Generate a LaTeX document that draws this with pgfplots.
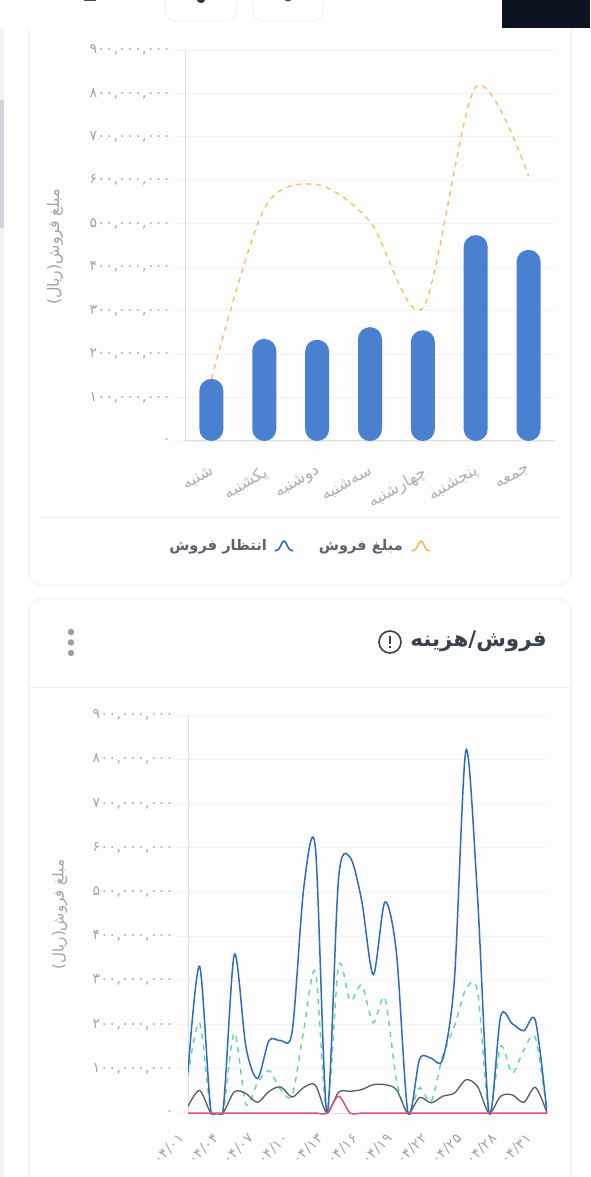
\documentclass[border=0pt]{standalone}
\usepackage{fontspec}
\usepackage{pgfplots}
\usepackage{pgfplotstable}
\pgfplotsset{compat=1.18}
\TeXXeTstate=1
\setmainfont{DejaVu Sans}
\newfontfamily\arabicfont[Script=Arabic]{DejaVu Sans}
\newfontfamily\digitfont[LetterSpace=3]{DejaVu Sans}
\newcommand{\nm}[1]{{\digitfont #1}}
\definecolor{bgcard}{HTML}{FDFDFE}
\definecolor{cardline}{HTML}{EEEFF2}
\definecolor{gridc}{HTML}{F1F2F4}
\definecolor{axisc}{HTML}{DDDFE3}
\definecolor{ticktext}{HTML}{A0A3AB}
\definecolor{barc}{HTML}{4A80D0}
\definecolor{orangec}{HTML}{F9B950}
\definecolor{bluec}{HTML}{2F6CB8}
\definecolor{greenc}{HTML}{62D3AA}
\definecolor{grayc}{HTML}{585B63}
\definecolor{pinkc}{HTML}{D9507C}
\definecolor{titlec}{HTML}{3B404D}
\definecolor{legc}{HTML}{5E626D}
\definecolor{darkbox}{HTML}{0D1320}
\definecolor{strip}{HTML}{F2F3F6}
\definecolor{stripd}{HTML}{D2D4DA}
\definecolor{dotc}{HTML}{9C9EA6}
\pgfplotstableread{
idx amount
0 143e6
1 235e6
2 233e6
3 262e6
4 255e6
5 474e6
6 440e6
}\bartable
\pgfplotstableread{
idx value
0 143e6
1 535e6
2 590e6
3 505e6
4 306e6
5 815e6
6 610e6
}\linetable
\pgfplotstableread{
idx blue green gray pink
0 94e6 85e6 15e6 0
1 332e6 204e6 51e6 0
2 0 0 0 0
3 0 0 0 0
4 358e6 181e6 48e6 0
5 150e6 20e6 44e6 0
6 78e6 68e6 24e6 0
7 164e6 96e6 49e6 0
8 164e6 53e6 59e6 0
9 185e6 41e6 36e6 0
10 510e6 188e6 58e6 0
11 600e6 319e6 63e6 0
12 0 0 0 0
13 530e6 332e6 47e6 38e6
14 578e6 254e6 49e6 0
15 480e6 289e6 53e6 0
16 313e6 204e6 64e6 0
17 477e6 260e6 64e6 0
18 362e6 75e6 53e6 0
19 0 0 0 0
20 122e6 57e6 35e6 0
21 124e6 26e6 23e6 0
22 122e6 130e6 38e6 0
23 300e6 196e6 45e6 0
24 820e6 280e6 75e6 0
25 490e6 275e6 60e6 0
26 0 0 0 0
27 219e6 151e6 38e6 0
28 202e6 90e6 41e6 0
29 186e6 143e6 24e6 0
30 209e6 170e6 58e6 0
31 0 0 0 0
}\daytable
\pgfplotsset{
  common/.style={
    scale only axis,
    ymax=900e6,
    ytick={0,100e6,200e6,300e6,400e6,500e6,600e6,700e6,800e6,900e6},
    yticklabels={\nm{۰},\nm{۱۰۰,۰۰۰,۰۰۰},\nm{۲۰۰,۰۰۰,۰۰۰},\nm{۳۰۰,۰۰۰,۰۰۰},\nm{۴۰۰,۰۰۰,۰۰۰},\nm{۵۰۰,۰۰۰,۰۰۰},\nm{۶۰۰,۰۰۰,۰۰۰},\nm{۷۰۰,۰۰۰,۰۰۰},\nm{۸۰۰,۰۰۰,۰۰۰},\nm{۹۰۰,۰۰۰,۰۰۰}},
    ymajorgrids,
    grid style={gridc,line width=0.8pt},
    axis line style={draw=none},
    separate axis lines,
    y tick style={gridc,line width=0.8pt},
    major tick length=11pt,
    x tick style={draw=none},
    tick align=outside,
    axis y line*=left,
    axis x line*=bottom,
    yticklabel style={font=\fontsize{14}{14}\selectfont,text=ticktext,anchor=east},
    xticklabel style={text=ticktext,anchor=north east,inner sep=0pt},
    ylabel style={text=ticktext,rotate=0},
    scaled y ticks=false,
    clip=true,
  }
}
\begin{document}
\begin{tikzpicture}[x=1pt,y=1pt]
\clip (0,0) rectangle (590,1177);
\fill[white] (0,0) rectangle (590,1177);
% cards
\draw[cardline,fill=bgcard,line width=0.8pt,rounded corners=12pt] (28.5,1177-585) -- (571.5,1177-585) -- (571.5,1200) -- (28.5,1200) -- cycle;
\draw[cardline,fill=bgcard,line width=0.8pt,rounded corners=12pt] (28.5,-30) -- (28.5,1177-599) -- (571.5,1177-599) -- (571.5,-30) -- cycle;
% top band
\fill[white] (0,1177-28) rectangle (590,1177);
\draw[cardline,fill=white,rounded corners=10pt,line width=0.7pt] (165.5,1190) rectangle (236.5,1177-21);
\draw[cardline,fill=white,rounded corners=10pt,line width=0.7pt] (252.5,1190) rectangle (323.5,1177-21);
\fill[black!80] (197,1177) arc (180:360:4 and 3) -- cycle;
\fill[black!70] (285,1177) arc (180:360:3 and 1.5) -- cycle;
\fill[black!70] (84,1177) rectangle (96,1176);
\fill[darkbox] (502,1177-28) rectangle (590,1177);
% scroller
\fill[strip] (0,0) rectangle (4,1177-28);
\fill[stripd] (0,1177-228) rectangle (4,1177-100);
% separators
\draw[cardline,line width=0.8pt] (40,1177-517.5) -- (560,1177-517.5);
\draw[cardline,line width=0.8pt] (29,1177-687.5) -- (571,1177-687.5);

%=========== chart 1
\begin{axis}[common,
  anchor=south west,
  at={(185pt,736pt)},
  width=370pt,height=391pt,
  xmin=-0.5,xmax=6.5,ymin=0,
  xtick={0,1,2,3,4,5,6},
  xticklabels={{\arabicfont\beginR شنبه\endR},{\arabicfont\beginR یکشنبه\endR},{\arabicfont\beginR دوشنبه\endR},{\arabicfont\beginR سه‌شنبه\endR},{\arabicfont\beginR چهارشنبه\endR},{\arabicfont\beginR پنجشنبه\endR},{\arabicfont\beginR جمعه\endR}},
  xticklabel style={rotate=30,xshift=-8pt,yshift=-10pt,font=\fontsize{16.5}{16.5}\selectfont,text=ticktext!85},
  ylabel={{\arabicfont\beginR مبلغ فروش(ریال)\endR}},
  ylabel style={at={(axis description cs:-0.351,0.496)},anchor=center,font=\fontsize{15.8}{16}\selectfont},
]
\draw[axisc,line width=1pt] (rel axis cs:0,0)--(rel axis cs:0,1);
\draw[axisc,line width=1pt] (rel axis cs:0,0)--(rel axis cs:1,0);
\addplot[ybar,bar width=24pt,draw=none,fill=barc,rounded corners=11.9pt,bar shift=0pt] table[x=idx,y=amount] {\bartable};
\addplot[smooth,orangec,line width=1.25pt,dash pattern=on 5pt off 5pt] table[x=idx,y=value] {\linetable};
\end{axis}

%=========== chart 2
\begin{axis}[common,
  anchor=origin,
  at={(188pt,64pt)},
  width=359pt,height=399.3pt,
  xmin=0,xmax=31,ymin=-3e6,
  xtick={0,3,6,9,12,15,18,21,24,27,30},
  xticklabels={\nm{۰۴/۰۱},\nm{۰۴/۰۴},\nm{۰۴/۰۷},\nm{۰۴/۱۰},\nm{۰۴/۱۳},\nm{۰۴/۱۶},\nm{۰۴/۱۹},\nm{۰۴/۲۲},\nm{۰۴/۲۵},\nm{۰۴/۲۸},\nm{۰۴/۳۱}},
  xticklabel style={rotate=45,xshift=-12pt,yshift=3pt,font=\fontsize{14}{14}\selectfont},
  ylabel={{\arabicfont\beginR مبلغ فروش(ریال)\endR}},
  ylabel style={at={(axis description cs:-0.357,0.5)},anchor=center,font=\fontsize{15}{15}\selectfont},
]
\draw[axisc,line width=1pt] (rel axis cs:0,0)--(rel axis cs:0,1);
\draw[axisc,line width=1pt] (axis cs:0,0)--(axis cs:31,0);
\addplot[smooth,greenc,line width=1.4pt,dash pattern=on 5.5pt off 5.5pt] table[x=idx,y=green] {\daytable};
\addplot[smooth,grayc,line width=1.3pt] table[x=idx,y=gray] {\daytable};
\addplot[smooth,bluec,line width=1.5pt] table[x=idx,y=blue] {\daytable};
\addplot[smooth,pinkc,line width=1.5pt] table[x=idx,y=pink] {\daytable};
\end{axis}

% legend
\node[font=\fontsize{14.6}{15}\selectfont\bfseries,text=legc,anchor=east,inner sep=0pt] at (403,1177-547) {\arabicfont\beginR مبلغ فروش\endR};
\node[font=\fontsize{14.6}{15}\selectfont\bfseries,text=legc,anchor=east,inner sep=0pt] at (267,1177-547) {\arabicfont\beginR انتظار فروش\endR};
\draw[orangec,line width=1.6pt] (412,1177-551) .. controls (418,1177-551) and (418,1177-541) .. (421,1177-541) .. controls (424,1177-541) and (424,1177-551) .. (430,1177-551);
\draw[bluec,line width=1.6pt] (275,1177-551) .. controls (281,1177-551) and (281,1177-541) .. (284,1177-541) .. controls (287,1177-541) and (287,1177-551) .. (293,1177-551);
% title
\node[font=\fontsize{21.5}{22}\selectfont\bfseries,text=titlec,anchor=east,inner sep=0pt] at (547,1177-641) {\arabicfont\beginR فروش/هزینه\endR};
\draw[titlec,line width=1.6pt] (390,1177-642) circle (11);
\fill[titlec] (389,1177-648) rectangle (391,1177-646);
\fill[titlec] (389,1177-644) rectangle (391,1177-636);
\fill[dotc] (71,1177-632) circle (3.2);
\fill[dotc] (71,1177-642.5) circle (3.2);
\fill[dotc] (71,1177-653) circle (3.2);
\end{tikzpicture}
\end{document}
